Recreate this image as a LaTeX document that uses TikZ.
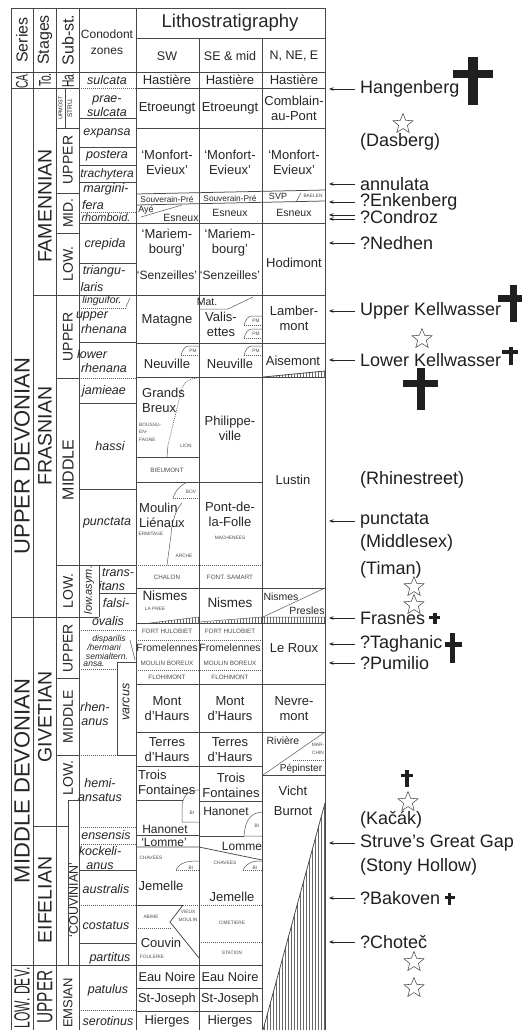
\documentclass[tikz,border=0pt]{standalone}
\usepackage{fontspec}
\setmainfont{Liberation Sans}
\usetikzlibrary{shapes.geometric,patterns,arrows.meta}
\newcommand{\myfs}[2]{\fontsize{#1}{#2}\selectfont}
\begin{document}
\begin{tikzpicture}[x=1pt,y=-1pt,
  ln/.style={line width=0.75pt, draw=black!72},
  dl/.style={line width=0.7pt, draw=black!65, dash pattern=on 0.9pt off 1.1pt},
  thn/.style={line width=0.5pt, draw=black!65},
  T/.style={inner sep=0pt, text=black!85, align=center},
  lit/.style={T, font=\myfs{13}{15}},
  lis/.style={T, font=\myfs{10.5}{12}},
  cz/.style={T, font=\myfs{12.5}{14}\itshape},
  czs/.style={T, font=\myfs{8.6}{9}\itshape},
  mb/.style={T, font=\myfs{6.3}{7}, text=black!70},
  tn/.style={T, font=\myfs{4.8}{7.5}, text=black!70},
  hdr/.style={T, font=\myfs{16}{16}, rotate=90},
  ser/.style={T, font=\myfs{22}{22}, rotate=90},
  stg/.style={T, font=\myfs{19.5}{20}, rotate=90},
  sbs/.style={T, font=\myfs{14}{14}, rotate=90},
  ev/.style={T, font=\myfs{18}{18}, anchor=west, text=black!88},
  evar/.style={-{Stealth[length=4.5pt,width=3.5pt]}, line width=0.8pt, draw=black!85},
  starsym/.style={star, star points=5, star point ratio=2.3, draw=black!70, line width=0.55pt, minimum size=21pt, inner sep=0pt},
  hatch/.style={pattern=vertical lines, pattern color=black!60},
  crossc/.style={fill=black!88}
]
\useasboundingbox (0,0) rectangle (522,1030);
\fill[white] (0,0) rectangle (522,1030);

% ---------- hatched areas ----------
\fill[hatch] (325,803) -- (263,1030) -- (325,1030) -- cycle;
\draw[ln] (325,803) -- (263,1030);
\fill[hatch] (263,377) -- (325,371) -- (325,377) -- cycle;
\draw[ln] (263,377) -- (325,371);
\fill[hatch] (150,623) -- (199,617) -- (199,623) -- cycle;
\fill[hatch] (199,623) -- (262,617) -- (262,623) -- cycle;
\fill[hatch] (262,617) rectangle (325,623);
\draw[thn] (150,623) -- (199,617) -- (199,622);
\draw[thn] (199,622) -- (262,617) -- (325,617);

% ---------- frame ----------
\draw[ln] (11,8) -- (11,1030);
\draw[ln] (33,8) -- (33,1030);
\draw[ln] (56,8) -- (56,1030);
\draw[ln] (79,8) -- (79,1030);
\draw[ln] (136,8) -- (136,1030);
\draw[ln] (199,38) -- (199,1030);
\draw[ln] (262,38) -- (262,1030);
\draw[ln] (325,8) -- (325,1030);
\draw[ln] (11,8) -- (325,8);
\draw[ln] (136,38) -- (325,38);
\draw[ln] (11,72) -- (325,72);
\draw[ln] (11,88) -- (79,88);
\draw[dl] (79,88) -- (136,88);
\draw[ln] (136,88) -- (325,88);

% series / stages / substages
\draw[ln] (11,617) -- (99,617);
\draw[ln] (11,965) -- (262,965);
\draw[ln] (33,295) -- (325,295);
\draw[ln] (33,826) -- (68,826);
\draw[ln] (68,800) -- (68,965);
\draw[ln] (68,800) -- (79,800);
\draw[ln] (65,88) -- (65,128);
\draw[ln] (56,128) -- (79,128);
\draw[ln] (56,193) -- (79,193);
\draw[ln] (56,233) -- (79,233);
\draw[ln] (56,378) -- (79,378);
\draw[ln] (56,565) -- (136,565);
\draw[ln] (56,678) -- (79,678);
\draw[ln] (56,755) -- (79,755);

% conodont zone lines
\draw[ln] (79,118) -- (136,118);
\draw[ln] (79,147) -- (136,147);
\draw[ln] (79,165) -- (136,165);
\draw[ln] (79,182) -- (136,182);
\draw[dl] (79,212) -- (136,212);
\draw[ln] (79,223) -- (325,223);
\draw[ln] (79,263) -- (136,263);
\draw[dl] (79,308) -- (127,308);
\draw[thn] (126,307) -- (130,298);
\draw[ln] (79,342) -- (136,342);
\draw[dl] (79,378) -- (136,378);
\draw[ln] (79,403) -- (136,403);
\draw[ln] (79,489) -- (136,489);
\draw[ln] (99,565) -- (99,617);
\draw[ln] (99,593) -- (136,593);
\draw[dl] (79,630) -- (136,630);
\draw[thn] (130,640) -- (135,660);
\draw[dl] (79,669) -- (117,669);
\draw[ln] (117,662) -- (136,662);
\draw[ln] (117,662) -- (117,755);
\draw[dl] (79,755) -- (117,755);
\draw[ln] (117,755) -- (136,755);
\draw[dl] (79,827) -- (136,827);
\draw[dl] (79,844) -- (136,844);
\draw[ln] (79,870) -- (136,870);
\draw[dl] (79,905) -- (136,905);
\draw[ln] (79,943) -- (136,943);
\draw[dl] (79,1010) -- (136,1010);

% ---------- lithostratigraphy lines: Famennian ----------
\draw[ln] (136,128) -- (325,128);
\draw[ln] (136,194) -- (325,190);
\draw[ln] (136,205) -- (325,201);
\draw[thn] (141,217) -- (182,205);
\draw[thn] (296,202) -- (301,193);

% Frasnian
\draw[thn] (199,309) -- (228,309) -- (253,297);
\draw[thn] (244,325) .. controls (246,319) and (248,316) .. (252,316) -- (262,316);
\draw[dl] (244,325) -- (262,325);
\draw[thn] (244,338) .. controls (246,332) and (248,329) .. (252,329) -- (262,329);
\draw[dl] (244,338) -- (262,338);
\draw[ln] (136,343) -- (325,343);
\draw[thn] (181,355) .. controls (183,349) and (185,346) .. (189,346) -- (199,346);
\draw[dl] (181,355) -- (199,355);
\draw[thn] (244,355) .. controls (246,349) and (248,346) .. (252,346) -- (262,346);
\draw[dl] (244,355) -- (262,355);
\draw[ln] (136,377) -- (325,377);
\draw[dl] (197,378) .. controls (186,379) and (182,385) .. (181,392) -- (168,445);
\draw[thn] (168,445) -- (167,457);
\draw[ln] (136,457) -- (199,457);
\draw[ln] (136,482) -- (262,482);
\draw[thn] (187,482) .. controls (178,487) and (175,492) .. (173,498);
\draw[dl] (173,498) -- (199,498);
\draw[thn] (182,503) .. controls (176,510) and (172,520) .. (171,535) -- (167,565);
\draw[dl] (136,565) -- (262,565);
\draw[ln] (136,588) -- (325,588);
\draw[thn] (263,617) -- (325,588);
\draw[ln] (136,623) -- (325,623);

% Givetian
\draw[dl] (136,640) -- (262,640);
\draw[dl] (136,670) -- (262,670);
\draw[ln] (136,684) -- (325,684);
\draw[ln] (136,732) -- (325,732);
\draw[ln] (136,766) -- (262,766);
\draw[thn] (263,775) -- (325,732);
\draw[dl] (293,760) -- (325,760);
\draw[ln] (263,775) -- (325,775);
\draw[ln] (136,800) -- (183,800);
\draw[thn] (199,790) .. controls (188,790) and (183,796) .. (182,806) -- (182,822) -- (199,822);
\draw[ln] (199,801) -- (262,801);
\draw[thn] (262,812) .. controls (250,813) and (245,821) .. (244,836) -- (262,836);
\draw[ln] (199,836) -- (244,836);
\draw[ln] (136,835) -- (199,835);
\draw[ln] (136,847) -- (199,847) -- (262,860);

% Eifelian
\draw[thn] (176,870) .. controls (180,862) and (188,861) .. (199,861);
\draw[dl] (176,870) -- (199,870);
\draw[thn] (243,870) .. controls (247,862) and (253,861) .. (262,861);
\draw[dl] (243,870) -- (262,870);
\draw[ln] (136,905) -- (183,905);
\draw[dl] (183,905) -- (262,905);
\draw[ln] (183,905) -- (170,922) -- (199,958);
\draw[dl] (136,928) -- (171,928);
\draw[dl] (199,942) -- (262,942);
\draw[ln] (136,988) -- (262,988);
\draw[ln] (136,1011) -- (262,1011);

% ---------- header text ----------
\node[hdr] (hSer) at (22,40) {Series};
\node[hdr] (hStg) at (45,40) {Stages};
\node[hdr] (hSub) at (68,40) {Sub-st.};
\node[T, font=\myfs{12}{16}] (hCon) at (107,42) {Conodont\\zones};
\node[T, font=\myfs{18.5}{19}] (hLit) at (230,23) {Lithostratigraphy};
\node[T, font=\myfs{12.5}{13}] (hSW) at (167,56) {SW};
\node[T, font=\myfs{12.5}{13}] (hSE) at (230,56) {SE \& mid};
\node[T, font=\myfs{12.5}{13}] (hN) at (294,56) {N, NE, E};

% ---------- series / stages / substages ----------
\node[T, font=\myfs{17}{17}, rotate=90] (sCA) at (22,80) {\scalebox{0.6}[1]{CA.}};
\node[T, font=\myfs{17}{17}, rotate=90] (sTo) at (45,80) {\scalebox{0.6}[1]{To.}};
\node[T, font=\myfs{17}{17}, rotate=90] (sHa) at (68,80) {\scalebox{0.6}[1]{Ha.}};
\node[ser] (sUD) at (22,456) {UPPER DEVONIAN};
\node[ser] (sMD) at (22,781) {MIDDLE DEVONIAN};
\node[ser] (sLD) at (22,998) {\scalebox{0.55}[1]{LOW. DEV.}};
\node[stg] (gFam) at (45,206) {FAMENNIAN};
\node[stg] (gFra) at (45,436) {FRASNIAN};
\node[stg] (gGiv) at (45,717) {GIVETIAN};
\node[stg] (gEif) at (45,900) {EIFELIAN};
\node[T, font=\myfs{22}{22}, rotate=90] (gUpE) at (45,997) {\scalebox{0.7}[1]{UPPER}};
\node[T, font=\myfs{5.5}{6}, rotate=90] (uUpm) at (60.5,108) {UPMOST};
\node[T, font=\myfs{6.5}{7}, rotate=90] (uStr) at (70,108) {STRU.};
\node[sbs] (u1) at (68,160) {UPPER};
\node[sbs] (u2) at (68,213) {MID.};
\node[sbs] (u3) at (68,264) {LOW.};
\node[sbs] (u4) at (68,337) {UPPER};
\node[T, font=\myfs{16}{16}, rotate=90] (u5) at (68,470) {MIDDLE};
\node[sbs] (u6) at (68,591) {LOW.};
\node[sbs] (u7) at (68,648) {UPPER};
\node[sbs] (u8) at (68,717) {MIDDLE};
\node[sbs] (u9) at (68,778) {LOW.};
\node[T, font=\myfs{12.5}{13}, rotate=90] (uCou) at (73.5,900) {`COUVINIAN'};
\node[T, font=\myfs{13}{13}, rotate=90] (uEms) at (68,1003) {EMSIAN};

% ---------- conodont zones ----------
\node[cz] (z1) at (107,80) {sulcata};
\node[cz] (z2) at (107,106) {prae-\\sulcata};
\node[cz] (z3) at (107,133) {expansa};
\node[cz] (z4) at (107,156) {postera};
\node[T, font=\myfs{12}{14}\itshape] (z5) at (107,174) {trachytera};
\node[cz] (z6) at (106,189) {margini-};
\node[cz] (z7) at (93,205) {fera};
\node[T, font=\myfs{11}{12}\itshape] (z8) at (106,218) {rhomboid.};
\node[cz] (z9) at (105,244) {crepida};
\node[cz] (z10) at (104,271) {triangu-};
\node[cz] (z11) at (92,287) {laris};
\node[T, font=\myfs{10.5}{11}\itshape] (z12) at (102,301) {linguifor.};
\node[cz] (z13) at (92,316) {upper};
\node[cz] (z14) at (104,329) {rhenana};
\node[cz] (z15) at (92,354) {lower};
\node[cz] (z16) at (104,368) {rhenana};
\node[cz] (z17) at (104,391) {jamieae};
\node[cz] (z18) at (110,446) {hassi};
\node[cz] (z19) at (107,523) {punctata};
\node[T, font=\myfs{11}{12}\itshape, rotate=90] (z20) at (89,590) {low.asym.};
\node[cz] (z21) at (118,573) {trans-};
\node[cz] (z22) at (112,586) {itans};
\node[cz] (z23) at (116,603) {falsi-};
\node[cz] (z24) at (108,621) {ovalis};
\node[czs] (z25) at (109,639) {disparilis};
\node[czs] (z26) at (104,647.5) {/hermani};
\node[czs] (z27) at (107,656) {semialtern.};
\node[czs] (z28) at (94,664.5) {ansa.};
\node[cz] (z29) at (95,714) {rhen-\\anus};
\node[cz, rotate=90] (z30) at (126,702) {varcus};
\node[cz] (z31) at (100,790) {hemi-\\ansatus};
\node[cz] (z32) at (106,835) {ensensis};
\node[cz] (z33) at (100,858) {kockeli-\\anus};
\node[cz] (z34) at (106,889) {australis};
\node[cz] (z35) at (106,926) {costatus};
\node[cz] (z36) at (110,958) {partitus};
\node[cz] (z37) at (108,990) {patulus};
\node[cz] (z38) at (108,1021) {serotinus};

% ---------- lithostratigraphy text ----------
\node[lit] (l1) at (167,80) {Hastière};
\node[lit] (l2) at (230,80) {Hastière};
\node[lit] (l3) at (294,80) {Hastière};
\node[lit] (l4) at (167,108) {Etroeungt};
\node[lit] (l5) at (230,108) {Etroeungt};
\node[lit] (l6) at (294,108) {Comblain-\\au-Pont};
\node[lit] (l7) at (167,162) {`Monfort-\\Evieux'};
\node[lit] (l8) at (230,162) {`Monfort-\\Evieux'};
\node[lit] (l9) at (294,162) {`Monfort-\\Evieux'};
\node[T, font=\myfs{8.3}{9}] (l10) at (167,199.5) {Souverain-Pré};
\node[T, font=\myfs{8.3}{9}] (l11) at (230,198) {Souverain-Pré};
\node[T, font=\myfs{9}{9}] (l12) at (278,196.5) {SVP};
\node[tn] (l13) at (313,196) {BAELEN};
\node[T, font=\myfs{9}{9}] (l14) at (146,210) {Ayé};
\node[lis] (l15) at (181,218) {Esneux};
\node[lis] (l16) at (230,213) {Esneux};
\node[lis] (l17) at (294,213) {Esneux};
\node[lit] (l18) at (167,243) {`Mariem-\\bourg'};
\node[lit] (l19) at (230,243) {`Mariem-\\bourg'};
\node[T, font=\myfs{12}{13}] (l20) at (167,275) {`Senzeilles'};
\node[T, font=\myfs{12}{13}] (l21) at (230,275) {`Senzeilles'};
\node[lit] (l22) at (294,263) {Hodimont};
\node[lit] (l23) at (167,320) {Matagne};
\node[T, font=\myfs{10.5}{11}] (l24) at (207,302) {Mat.};
\node[lit] (l25) at (221,324) {Valis-\\ettes};
\node[tn] (l26) at (256,321) {PM};
\node[tn] (l27) at (256,334) {PM};
\node[lit] (l28) at (294,318) {Lamber-\\mont};
\node[tn] (l29) at (193,351) {PM};
\node[tn] (l30) at (256,351) {PM};
\node[lit] (l31) at (167,364) {Neuville};
\node[lit] (l32) at (230,364) {Neuville};
\node[lit] (l33) at (293,361) {Aisemont};
\node[lit, align=left, anchor=west] (l34) at (142,400) {Grands\\Breux};
\node[tn, align=left, anchor=west] (l35) at (139,432) {BOUSSU-\\EN-\\FAGNE};
\node[tn] (l36) at (186,446) {LION};
\node[mb] (l37) at (167,470) {BIEUMONT};
\node[lit] (l38) at (230,428) {Philippe-\\ville};
\node[lit] (l39) at (293,480) {Lustin};
\node[tn] (l40) at (191,492) {BOV};
\node[lit, align=left, anchor=west] (l41) at (139,515) {Moulin\\Liénaux};
\node[tn] (l42) at (151,534) {ERMITAGE};
\node[tn] (l43) at (184,556) {ARCHE};
\node[lit] (l44) at (230,514) {Pont-de-\\la-Folle};
\node[tn] (l45) at (230,538) {MACHENEES};
\node[mb] (l46) at (167,577) {CHALON};
\node[mb] (l47) at (230,577) {FONT. SAMART};
\node[T, font=\myfs{13.5}{14}] (l48) at (165,596) {Nismes};
\node[tn] (l49) at (155,609) {LA PREE};
\node[T, font=\myfs{13.5}{14}] (l50) at (230,603) {Nismes};
\node[lis] (l51) at (281,597) {Nismes};
\node[lis] (l52) at (307,611) {Presles};
\node[mb] (l53) at (167,631) {FORT HULOBIET};
\node[mb] (l54) at (230,631) {FORT HULOBIET};
\node[lis] (l55) at (167,648) {Fromelennes};
\node[lis] (l56) at (230,648) {Fromelennes};
\node[mb] (l57) at (167,663) {MOULIN BOREUX};
\node[mb] (l58) at (230,663) {MOULIN BOREUX};
\node[mb] (l59) at (167,677) {FLOHIMONT};
\node[mb] (l60) at (230,677) {FLOHIMONT};
\node[lit] (l61) at (294,648) {Le Roux};
\node[lit] (l62) at (167,709) {Mont\\d'Haurs};
\node[lit] (l63) at (230,709) {Mont\\d'Haurs};
\node[lit] (l64) at (294,709) {Nevre-\\mont};
\node[lit] (l65) at (167,750) {Terres\\d'Haurs};
\node[lit] (l66) at (230,750) {Terres\\d'Haurs};
\node[lis] (l67) at (283,741) {Rivière};
\node[tn] (l68) at (318,749) {MAR-\\CHIN};
\node[T, font=\myfs{10}{10}] (l69) at (301,769) {Pépinster};
\node[lit, align=left, anchor=west] (l70) at (138,782) {Trois\\Fontaines};
\node[lit] (l71) at (231,785) {Trois\\Fontaines};
\node[lit] (l72) at (293,791) {Vicht};
\node[lit] (l73) at (293,811) {Burnot};
\node[tn] (l74) at (192,813) {BI};
\node[T, font=\myfs{12}{12}] (l75) at (226,811) {Hanonet};
\node[tn] (l76) at (257,826) {BI};
\node[T, font=\myfs{12}{12}] (l77) at (165,829) {Hanonet};
\node[T, font=\myfs{12}{12}] (l78) at (164,842) {`Lomme'};
\node[T, font=\myfs{12}{12}] (l79) at (242,846) {Lomme};
\node[tn] (l80) at (151,858) {CHAVEES};
\node[tn] (l81) at (191,868) {BI};
\node[tn] (l82) at (225,863) {CHAVEES};
\node[tn] (l83) at (255,868) {BI};
\node[lit] (l84) at (161,886) {Jemelle};
\node[lit] (l85) at (232,897) {Jemelle};
\node[tn] (l86) at (151,917) {ABIME};
\node[tn] (l87) at (188,916) {VIEUX\\MOULIN};
\node[tn] (l88) at (232,923) {CIMETIERE};
\node[lit] (l89) at (161,943) {Couvin};
\node[tn] (l90) at (152,957) {FOULERIE};
\node[tn] (l91) at (232,953) {STATION};
\node[T, font=\myfs{12.8}{13}] (l92) at (167,977) {Eau Noire};
\node[T, font=\myfs{12.8}{13}] (l93) at (230,977) {Eau Noire};
\node[T, font=\myfs{12.8}{13}] (l94) at (167,999) {St-Joseph};
\node[T, font=\myfs{12.8}{13}] (l95) at (230,999) {St-Joseph};
\node[lit] (l96) at (167,1021) {Hierges};
\node[lit] (l97) at (230,1021) {Hierges};

% ---------- events ----------
\node[ev] (eHang) at (360,89) {Hangenberg};
\node[ev] (eDas) at (360,142) {(Dasberg)};
\node[ev] (eAnn) at (360,184) {annulata};
\node[ev] (eEnk) at (360,202) {?Enkenberg};
\node[ev] (eCon) at (360,217) {?Condroz};
\node[ev] (eNed) at (360,243) {?Nedhen};
\node[ev] (eUK) at (360,311) {Upper Kellwasser};
\node[ev] (eLK) at (360,360) {Lower Kellwasser};
\node[ev] (eRhi) at (360,480) {(Rhinestreet)};
\node[ev] (ePun) at (360,521) {punctata};
\node[ev] (eMid) at (360,543) {(Middlesex)};
\node[ev] (eTim) at (360,570) {(Timan)};
\node[ev] (eFra) at (360,618) {Frasnes};
\node[ev] (eTag) at (360,644) {?Taghanic};
\node[ev] (ePum) at (360,663) {?Pumilio};
\node[ev] (eKac) at (360,820) {(Kačák)};
\node[ev] (eStr) at (360,843) {Struve's Great Gap};
\node[ev] (eSto) at (360,867) {(Stony Hollow)};
\node[ev] (eBak) at (360,898) {?Bakoven};
\node[ev] (eCho) at (360,942) {?Choteč};

\coordinate (cHang) at (329,89);
\coordinate (cAnn) at (329,184);
\coordinate (cEnk) at (329,202);
\coordinate (cCon1) at (329,215);
\coordinate (cCon2) at (329,219);
\coordinate (cNed) at (329,243);
\coordinate (cUK) at (329,311);
\coordinate (cLK) at (329,360);
\coordinate (cPun) at (329,521);
\coordinate (cFra) at (329,618);
\coordinate (cTag) at (329,644);
\coordinate (cPum) at (329,663);
\coordinate (cStr) at (329,843);
\coordinate (cBak) at (329,898);
\coordinate (cCho) at (329,942);

\draw[evar] ([xshift=-5pt]eHang.west) -- (cHang);
\draw[evar] ([xshift=-5pt]eAnn.west) -- (cAnn);
\draw[evar] ([xshift=-5pt]eEnk.west) -- (cEnk);
\draw[evar] ([xshift=-5pt,yshift=2pt]eCon.west) -- (cCon1);
\draw[evar] ([xshift=-5pt,yshift=-2pt]eCon.west) -- (cCon2);
\draw[evar] ([xshift=-5pt]eNed.west) -- (cNed);
\draw[evar] ([xshift=-5pt]eUK.west) -- (cUK);
\draw[evar] ([xshift=-5pt]eLK.west) -- (cLK);
\draw[evar] ([xshift=-5pt]ePun.west) -- (cPun);
\draw[evar] ([xshift=-5pt]eFra.west) -- (cFra);
\draw[evar] ([xshift=-5pt]eTag.west) -- (cTag);
\draw[evar] ([xshift=-5pt]ePum.west) -- (cPum);
\draw[evar] ([xshift=-5pt]eStr.west) -- (cStr);
\draw[evar] ([xshift=-5pt]eBak.west) -- (cBak);
\draw[evar] ([xshift=-5pt]eCho.west) -- (cCho);

% crosses
\fill[crossc] (468,57) rectangle (478,105);
\fill[crossc] (453,70) rectangle (493,78);
\fill[crossc] (510,285) rectangle (517,322);
\fill[crossc] (498,295) rectangle (522,302);
\fill[crossc] (508.5,347) rectangle (512.5,365);
\fill[crossc] (502,350) rectangle (518,354);
\fill[crossc] (417,368) rectangle (425,410);
\fill[crossc] (403,380) rectangle (438,387);
\fill[crossc] (433,613) rectangle (436.5,624);
\fill[crossc] (429,616) rectangle (440,619);
\fill[crossc] (450,633) rectangle (455,663);
\fill[crossc] (445,642) rectangle (462,647);
\fill[crossc] (405,770) rectangle (408.5,787);
\fill[crossc] (401,773.5) rectangle (413,777);
\fill[crossc] (448,893) rectangle (451,905);
\fill[crossc] (444.5,896) rectangle (454.5,899);

% stars
\node[starsym] (st1) at (403,124) {};
\node[starsym] (st2) at (422,339) {};
\node[starsym] (st3) at (414,587) {};
\node[starsym] (st4) at (414,605) {};
\node[starsym] (st5) at (408,802) {};
\node[starsym] (st6) at (414,962) {};
\node[starsym] (st7) at (414,988) {};
\end{tikzpicture}
\end{document}
